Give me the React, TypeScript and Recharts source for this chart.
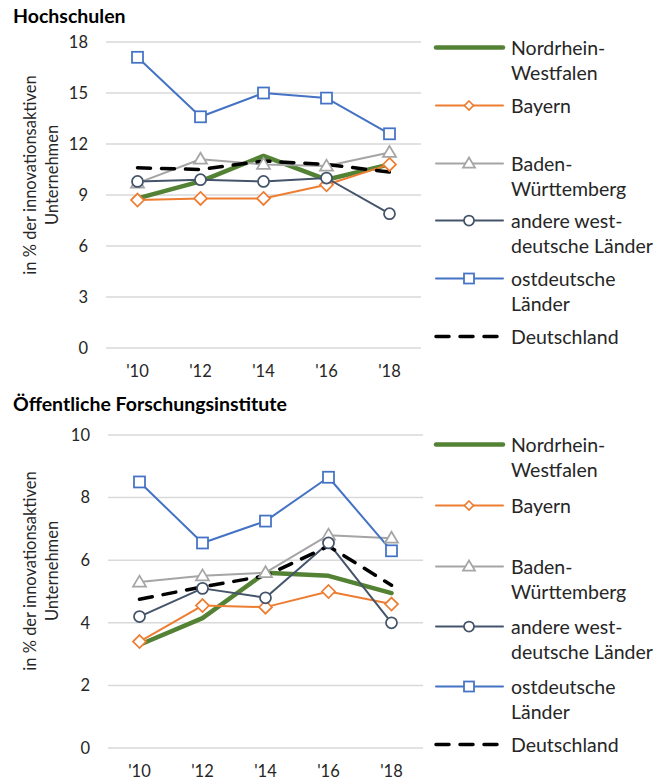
import React from 'react';
import { LineChart, Line, XAxis, YAxis, CartesianGrid } from 'recharts';

// Survey years (x axis)
const years = ["'10", "'12", "'14", "'16", "'18"];

// Hochschulen – share in % of innovation-active firms
const hsNRW = [8.8, 9.8, 11.3, 9.9, 10.8];
const hsBayern = [8.7, 8.8, 8.8, 9.6, 10.8];
const hsBW = [9.7, 11.1, 10.8, 10.7, 11.5];
const hsAndere = [9.8, 9.9, 9.8, 10.0, 7.9];
const hsOst = [17.1, 13.6, 15.0, 14.7, 12.6];
const hsDE = [10.6, 10.5, 11.0, 10.8, 10.35];

// Öffentliche Forschungsinstitute
const fiNRW = [3.3, 4.15, 5.6, 5.5, 4.95];
const fiBayern = [3.4, 4.55, 4.5, 5.0, 4.6];
const fiBW = [5.3, 5.5, 5.6, 6.8, 6.7];
const fiAndere = [4.2, 5.1, 4.8, 6.55, 4.0];
const fiOst = [8.5, 6.55, 7.25, 8.65, 6.3];
const fiDE = [4.75, 5.15, 5.5, 6.45, 5.2];

const hsTicks = [0, 3, 6, 9, 12, 15, 18];
const fiTicks = [0, 2, 4, 6, 8, 10];

const FONT = 'Lato, "Noto Sans", sans-serif';
const TEXT = '#262626';

type Shape = 'none' | 'diamond' | 'triangle' | 'circle' | 'square';

interface SeriesDef {
  key: string;
  name: string[];
  color: string;
  width: number;
  shape: Shape;
  dash?: string;
}

const series: SeriesDef[] = [
  { key: 'nrw', name: ['Nordrhein-', 'Westfalen'], color: '#548235', width: 4.5, shape: 'none' },
  { key: 'bayern', name: ['Bayern'], color: '#ED7D31', width: 2, shape: 'diamond' },
  { key: 'bw', name: ['Baden-', 'Württemberg'], color: '#A5A5A5', width: 2, shape: 'triangle' },
  { key: 'andere', name: ['andere west-', 'deutsche Länder'], color: '#44546A', width: 2, shape: 'circle' },
  { key: 'ost', name: ['ostdeutsche', 'Länder'], color: '#4472C4', width: 2, shape: 'square' },
  { key: 'de', name: ['Deutschland'], color: '#000000', width: 3.5, shape: 'none', dash: '13 11' },
];

const buildRows = (cols: number[][]) =>
  years.map((year, i) => ({
    year,
    nrw: cols[0][i],
    bayern: cols[1][i],
    bw: cols[2][i],
    andere: cols[3][i],
    ost: cols[4][i],
    de: cols[5][i],
  }));

const hsData = buildRows([hsNRW, hsBayern, hsBW, hsAndere, hsOst, hsDE]);
const fiData = buildRows([fiNRW, fiBayern, fiBW, fiAndere, fiOst, fiDE]);

const Marker = ({ cx, cy, shape, color, s }: { cx: number; cy: number; shape: Shape; color: string; s: number }) => {
  const common = { fill: '#fff', stroke: color, strokeWidth: 1.75 };
  if (shape === 'square') return <rect x={cx - s} y={cy - s} width={2 * s} height={2 * s} {...common} />;
  if (shape === 'circle') return <circle cx={cx} cy={cy} r={s} {...common} />;
  if (shape === 'diamond')
    return <polygon points={`${cx},${cy - s - 1} ${cx + s + 1},${cy} ${cx},${cy + s + 1} ${cx - s - 1},${cy}`} {...common} />;
  if (shape === 'triangle')
    return <polygon points={`${cx},${cy - s - 1} ${cx + s + 1},${cy + s * 0.8} ${cx - s - 1},${cy + s * 0.8}`} {...common} />;
  return <g />;
};

const legendTop = [47, 105, 163, 220, 278, 336];
const legendBottom = [444, 505, 566, 626, 686, 744];

const SideLegend = ({ ys }: { ys: number[] }) => (
  <>
    {series.map((s, i) => (
      <div key={s.key} style={{ position: 'absolute', left: 432, top: ys[i] - 12.5, lineHeight: '25px' }}>
        <svg width={76} height={25} style={{ position: 'absolute', left: 0, top: 0 }}>
          <line x1={4} x2={71} y1={12.5} y2={12.5} stroke={s.color} strokeWidth={s.width}
            strokeDasharray={s.dash} strokeLinecap="round" />
          <Marker cx={37} cy={12.5} shape={s.shape} color={s.color} s={s.shape === 'diamond' ? 3.5 : 5} />
        </svg>
        <div style={{ position: 'absolute', left: 79, top: 0, whiteSpace: 'nowrap', fontSize: 19.5, color: TEXT }}>
          {s.name.map((n) => (
            <div key={n}>{n}</div>
          ))}
        </div>
      </div>
    ))}
  </>
);

const AxisTitle = ({ cx, cy }: { cx: number; cy: number }) => (
  <div
    style={{
      position: 'absolute', left: cx, top: cy, transform: 'translate(-50%, -50%) rotate(-90deg)',
      whiteSpace: 'nowrap', textAlign: 'center', fontSize: 16.5, lineHeight: '22px', color: TEXT,
    }}
  >
    <div>in % der innovationsaktiven</div>
    <div>Unternehmen</div>
  </div>
);

interface PanelProps {
  data: typeof hsData;
  ticks: number[];
  max: number;
  height: number;
  margin: { top: number; right: number; bottom: number; left: number };
}

const Panel = ({ data, ticks, max, height, margin }: PanelProps) => (
  <LineChart width={440} height={height} data={data} margin={margin}>
    <CartesianGrid vertical={false} stroke="#D9D9D9" strokeWidth={1.5} />
    <XAxis dataKey="year" axisLine={false} tickLine={false} tickMargin={11}
      padding={{ left: 31.5, right: 31.5 }} tick={{ fill: TEXT, fontSize: 16.5, fontFamily: FONT }} />
    <YAxis domain={[0, max]} ticks={ticks} width={106} axisLine={false} tickLine={false} tickMargin={12}
      interval={0} tick={{ fill: TEXT, fontSize: 16.5, fontFamily: FONT }} />
    {series.map((s) => (
      <Line key={s.key} dataKey={s.key} name={s.name.join('')} stroke={s.color} strokeWidth={s.width}
        strokeDasharray={s.dash} strokeLinecap="round" strokeLinejoin="round" isAnimationActive={false}
        dot={(p: any) => (
          <Marker key={`${s.key}-${p.index}`} cx={p.cx} cy={p.cy} shape={s.shape} color={s.color} s={5.5} />
        )}
        activeDot={false} />
    ))}
  </LineChart>
);

export default function App() {
  return (
    <div style={{ position: 'absolute', left: 0, top: 0, width: 671, height: 782, background: '#fff', fontFamily: FONT }}>
      <div style={{ position: 'absolute', left: 13, top: 4, fontSize: 19.5, fontWeight: 700, color: '#000' }}>Hochschulen</div>
      <div style={{ position: 'absolute', left: 0, top: 0 }}>
        <Panel data={hsData} ticks={hsTicks} max={18} height={390} margin={{ top: 42, right: 19, bottom: 12, left: 0 }} />
      </div>
      <AxisTitle cx={41} cy={175} />
      <SideLegend ys={legendTop} />

      <div style={{ position: 'absolute', left: 13, top: 392, fontSize: 19.5, fontWeight: 700, color: '#000' }}>
        Öffentliche Forschungsinstitute
      </div>
      <div style={{ position: 'absolute', left: 0, top: 390 }}>
        <Panel data={fiData} ticks={fiTicks} max={10} height={392} margin={{ top: 45, right: 17, bottom: 4, left: 2 }} />
      </div>
      <AxisTitle cx={41} cy={571} />
      <SideLegend ys={legendBottom} />
    </div>
  );
}
